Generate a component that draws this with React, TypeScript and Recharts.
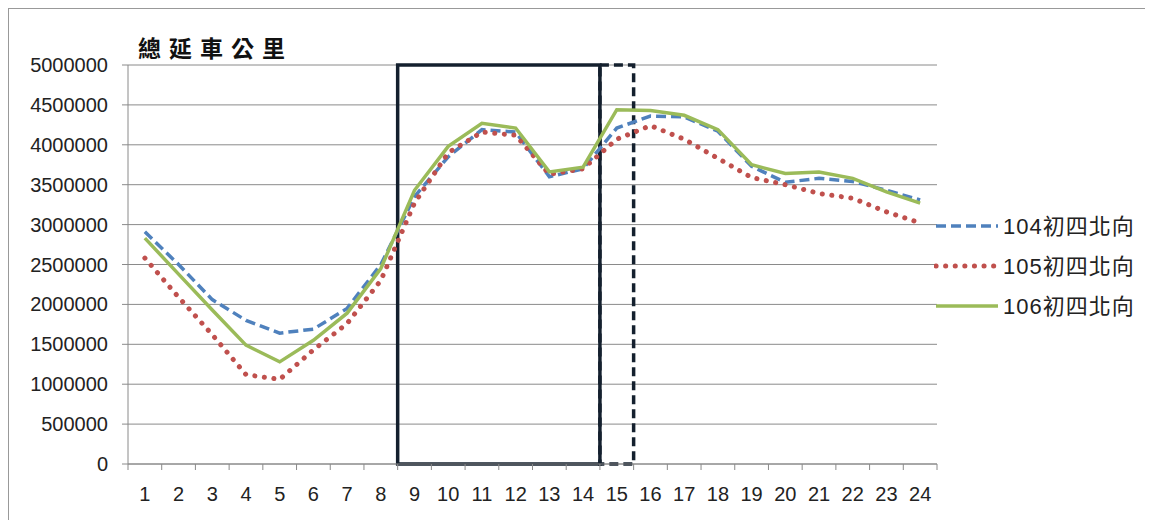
import React from 'react';
import { LineChart, Line, XAxis, YAxis, CartesianGrid, ReferenceArea } from 'recharts';

const hours = [1, 2, 3, 4, 5, 6, 7, 8, 9, 10, 11, 12, 13, 14, 15, 16, 17, 18, 19, 20, 21, 22, 23, 24];
const s104 = [2910000, 2500000, 2060000, 1800000, 1640000, 1690000, 1950000, 2500000, 3350000, 3850000, 4190000, 4160000, 3600000, 3700000, 4210000, 4360000, 4350000, 4170000, 3730000, 3530000, 3580000, 3540000, 3430000, 3310000];
const s105 = [2580000, 2090000, 1620000, 1120000, 1060000, 1430000, 1760000, 2300000, 3270000, 3900000, 4160000, 4120000, 3630000, 3700000, 4070000, 4240000, 4070000, 3830000, 3590000, 3500000, 3390000, 3330000, 3160000, 3020000];
const s106 = [2830000, 2380000, 1930000, 1490000, 1280000, 1550000, 1890000, 2450000, 3430000, 3980000, 4270000, 4210000, 3660000, 3720000, 4440000, 4430000, 4370000, 4190000, 3750000, 3640000, 3660000, 3580000, 3410000, 3270000];
const seriesNames = ['104初四北向', '105初四北向', '106初四北向'];
const yTicks = [0, 500000, 1000000, 1500000, 2000000, 2500000, 3000000, 3500000, 4000000, 4500000, 5000000];
const title = '總延車公里';
const solidBox = [8.5, 14.5];
const dashedBox = [14.5, 15.5];

const data = hours.map((h, i) => ({ h, a: s104[i], b: s105[i], c: s106[i] }));
const xTicks: number[] = [];
hours.forEach((h) => { xTicks.push(h - 0.5); xTicks.push(h); });
xTicks.push(hours[hours.length - 1] + 0.5);

const FONT = '"Liberation Sans", Arial, sans-serif';
const GRID = '#8a8a8a';

const XTick = (props: any) => {
  const { x, y, payload } = props;
  const v = payload.value;
  if (Math.abs(v - Math.round(v)) > 0.01) {
    return <line x1={x} x2={x} y1={y - 8} y2={y - 2} stroke={GRID} strokeWidth={1} />;
  }
  return (
    <text x={x} y={y + 29} textAnchor="middle" fontSize={20} fontFamily={FONT} fill="#222">{v}</text>
  );
};

const YTick = (props: any) => {
  const { x, y, payload } = props;
  return (
    <text x={x} y={y + 7} textAnchor="end" fontSize={20} fontFamily={FONT} fill="#222">{payload.value}</text>
  );
};

const legendStyles = [
  { stroke: '#4f81bd', dash: '10 5', cap: 'butt', w: 3.5 },
  { stroke: '#c0504d', dash: '0.1 9.5', cap: 'round', w: 5 },
  { stroke: '#9bbb59', dash: undefined, cap: 'butt', w: 3.5 },
];

const LegendBox = () => (
  <svg width={230} height={110} style={{ position: 'absolute', left: 925, top: 205 }}>
    {seriesNames.map((n, i) => (
      <g key={n}>
        <line x1={2} x2={64} y1={12 + i * 40} y2={12 + i * 40} stroke={legendStyles[i].stroke} strokeWidth={legendStyles[i].w}
          strokeDasharray={legendStyles[i].dash} strokeLinecap={legendStyles[i].cap as any} />
        <text x={69} y={20 + i * 40} fontSize={22} letterSpacing={1} fontFamily={'"Liberation Sans", "Noto Sans CJK TC", sans-serif'} fill="#222">{n}</text>
      </g>
    ))}
  </svg>
);

export default function App() {
  return (
    <div style={{ position: 'relative', width: 1145, height: 512, borderTop: '1px solid #999', borderLeft: '1px solid #999', boxSizing: 'border-box', background: '#fff' }}>
      <div style={{ position: 'absolute', left: 129, top: 23, fontSize: 23, fontWeight: 700, letterSpacing: 8, fontFamily: '"Noto Sans CJK TC", sans-serif', color: '#111', lineHeight: '30px' }}>{title}</div>
      <LineChart width={1144} height={511} data={data} margin={{ top: 56, left: 0, right: 216, bottom: 16 }}>
        <CartesianGrid vertical={false} stroke={GRID} strokeWidth={1} />
        <XAxis dataKey="h" type="number" domain={[0.5, 24.5]} ticks={xTicks} interval={0} tickLine={false}
          axisLine={{ stroke: GRID }} tick={<XTick />} height={40} allowDecimals />
        <YAxis domain={[0, 5000000]} ticks={yTicks} width={119} tickSize={6} tickMargin={14}
          tickLine={{ stroke: GRID }} axisLine={{ stroke: GRID }} tick={<YTick />} interval={0} />
        <ReferenceArea x1={dashedBox[0]} x2={dashedBox[1]} y1={0} y2={5000000} fill="none" fillOpacity={0}
          stroke="#14202e" strokeWidth={3.5} strokeDasharray="9 5" ifOverflow="visible" />
        <ReferenceArea x1={solidBox[0]} x2={solidBox[1]} y1={0} y2={5000000} fill="none" fillOpacity={0}
          stroke="#14202e" strokeWidth={3.5} ifOverflow="visible" />
        <Line dataKey="a" name={seriesNames[0]} stroke="#4f81bd" strokeWidth={3.5} strokeDasharray="10 5" dot={false} isAnimationActive={false} type="linear" />
        <Line dataKey="b" name={seriesNames[1]} stroke="#c0504d" strokeWidth={5} strokeDasharray="0.1 9.5" strokeLinecap="round" dot={false} isAnimationActive={false} type="linear" />
        <Line dataKey="c" name={seriesNames[2]} stroke="#9bbb59" strokeWidth={3.5} dot={false} isAnimationActive={false} type="linear" />
      </LineChart>
      <LegendBox />
    </div>
  );
}
